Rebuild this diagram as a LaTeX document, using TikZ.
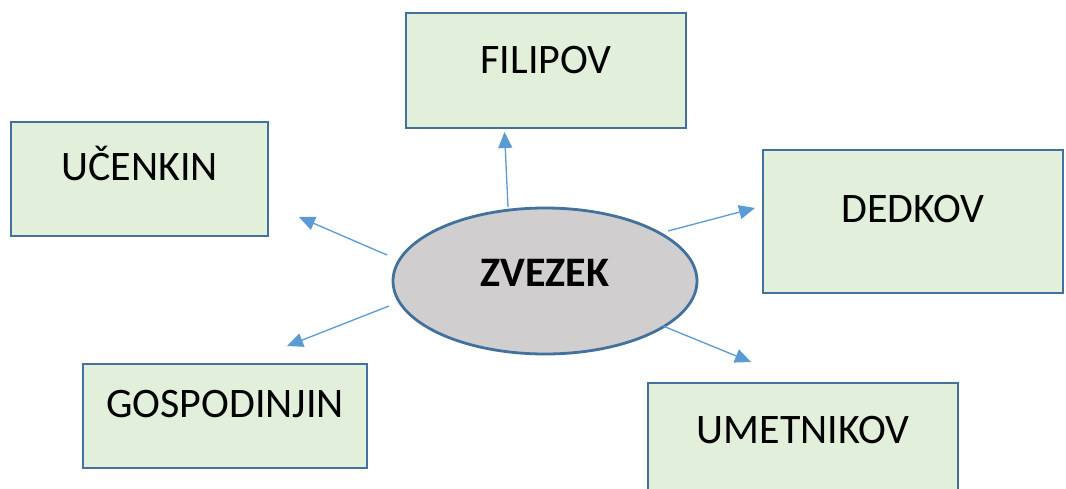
\documentclass[tikz,border=0pt]{standalone}
\usepackage{fontspec}
\setmainfont{Carlito}
\usetikzlibrary{arrows.meta,shapes.geometric}
\definecolor{boxfill}{HTML}{E2EFDA}
\definecolor{boxline}{HTML}{41719C}
\definecolor{ellfill}{HTML}{D0CECE}
\definecolor{arrowcol}{HTML}{5B9BD5}
\tikzset{
  namebox/.style={draw=boxline, fill=boxfill, line width=2.8pt, rectangle, inner sep=0pt},
  boxtext/.style={anchor=base, inner sep=0pt, font=\fontsize{42}{48}\selectfont},
  link/.style={draw=arrowcol, line width=1.3pt, -{Triangle[length=16pt,width=14pt]}}
}
\begin{document}
\begin{tikzpicture}[x=1pt,y=-1pt]
\clip (0,0) rectangle (1066,488);
\fill[white] (0,0) rectangle (1066,488);
% boxes
\node[namebox, minimum width=280pt, minimum height=115pt] (filipov) at (546,70.5) {};
\node[boxtext] (tfilipov) at (546,73) {FILIPOV};
\node[namebox, minimum width=257pt, minimum height=114pt] (ucenkin) at (139.5,179) {};
\node[boxtext] (tucenkin) at (139.5,180) {UČENKIN};
\node[namebox, minimum width=300pt, minimum height=143pt] (dedkov) at (913,221.5) {};
\node[boxtext] (tdedkov) at (913,222) {DEDKOV};
\node[namebox, minimum width=284pt, minimum height=104pt] (gospod) at (225,416) {};
\node[boxtext] (tgospod) at (225,417) {GOSPODINJIN};
\node[namebox, minimum width=310pt, minimum height=140pt] (umetnik) at (803,453) {};
\node[boxtext] (tumetnik) at (803,443) {UMETNIKOV};
% center ellipse
\node[draw=boxline, fill=ellfill, line width=2.8pt, ellipse, minimum width=304pt, minimum height=146pt, inner sep=0pt] (zvezek) at (545,281) {};
\node[boxtext, font=\fontsize{42}{48}\selectfont\bfseries] (tzvezek) at (545,286) {ZVEZEK};
% arrow end points
\coordinate (a1s) at (508,207); \coordinate (a1e) at (504.5,132);
\coordinate (a2s) at (387,255); \coordinate (a2e) at (299,217);
\coordinate (a3s) at (389,306); \coordinate (a3e) at (287,346);
\coordinate (a4s) at (663,326); \coordinate (a4e) at (751,362);
\coordinate (a5s) at (668,231); \coordinate (a5e) at (755,208);
\draw[link] (a1s) -- (a1e);
\draw[link] (a2s) -- (a2e);
\draw[link] (a3s) -- (a3e);
\draw[link] (a4s) -- (a4e);
\draw[link] (a5s) -- (a5e);
\end{tikzpicture}
\end{document}
